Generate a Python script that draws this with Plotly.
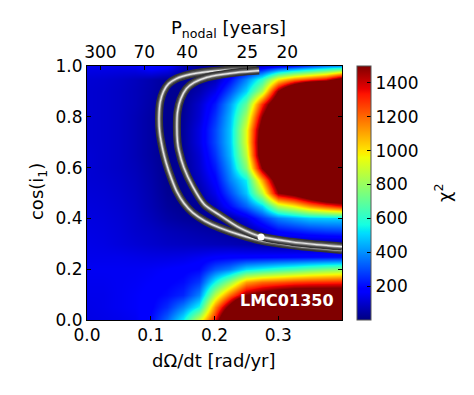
import math

import plotly.graph_objects as go

# grid of the chi^2 map (cell centres)
OMEGA_DOT = [0.0, 0.025, 0.05, 0.075, 0.1, 0.125, 0.15, 0.175, 0.2,
             0.225, 0.25, 0.275, 0.3, 0.325, 0.35, 0.375, 0.4]
COS_I = [0.0, 0.05, 0.1, 0.15, 0.2, 0.25, 0.3, 0.35, 0.4, 0.45, 0.5,
         0.55, 0.6, 0.65, 0.7, 0.75, 0.8, 0.85, 0.9, 0.95, 1.0]
CHI2 = [
    [130, 135, 140, 150, 200, 340, 540, 900, 1350, 2000, 2500, 2500, 2500, 2500, 2500, 2500, 2500],
    [135, 140, 150, 160, 180, 250, 380, 560, 1150, 1600, 2200, 2500, 2500, 2500, 2500, 2500, 2500],
    [140, 140, 150, 160, 175, 200, 240, 380, 860, 1200, 1500, 1600, 1700, 1750, 1750, 1750, 1750],
    [145, 145, 150, 155, 165, 180, 200, 270, 560, 800, 1110, 1200, 1230, 1270, 1290, 1300, 1310],
    [150, 150, 150, 150, 155, 165, 175, 190, 310, 375, 510, 560, 610, 650, 700, 740, 770],
    [140, 140, 140, 135, 130, 130, 135, 150, 170, 180, 180, 185, 190, 195, 200, 205, 210],
    [135, 130, 120, 110, 100, 90, 85, 80, 75, 70, 60, 50, 40, 35, 35, 35, 40],
    [130, 125, 115, 100, 90, 75, 65, 55, 45, 35, 40, 100, 190, 220, 250, 270, 280],
    [125, 120, 110, 95, 75, 50, 35, 25, 25, 50, 130, 260, 375, 430, 480, 490, 490],
    [120, 115, 105, 90, 65, 35, 20, 25, 80, 200, 330, 500, 850, 975, 1140, 1250, 1350],
    [115, 110, 100, 85, 60, 25, 15, 50, 140, 297, 474, 866, 1480, 1600, 1800, 2000, 2000],
    [110, 105, 95, 80, 55, 20, 20, 80, 180, 375, 540, 1100, 1700, 2000, 2300, 2500, 2500],
    [110, 100, 90, 75, 50, 18, 25, 100, 220, 416, 757, 1500, 2000, 2500, 2500, 2500, 2500],
    [110, 100, 90, 70, 45, 15, 30, 110, 260, 460, 866, 1700, 2500, 2500, 2500, 2500, 2500],
    [105, 100, 90, 70, 45, 15, 35, 130, 290, 480, 930, 1700, 2500, 2500, 2500, 2500, 2500],
    [105, 100, 90, 70, 45, 15, 35, 130, 290, 480, 930, 1650, 2500, 2500, 2500, 2500, 2500],
    [105, 100, 90, 70, 45, 18, 30, 110, 260, 460, 830, 1500, 2000, 2500, 2500, 2500, 2500],
    [105, 100, 90, 75, 50, 20, 25, 100, 220, 420, 700, 1300, 1800, 2500, 2500, 2500, 2500],
    [105, 100, 90, 75, 55, 25, 20, 60, 140, 300, 500, 840, 1500, 2000, 2500, 2500, 2500],
    [110, 105, 95, 80, 60, 35, 25, 30, 70, 200, 380, 600, 980, 1150, 1250, 1350, 1600],
    [140, 140, 140, 150, 200, 180, 80, 40, 35, 40, 60, 100, 160, 220, 300, 380, 420],
]

# confidence contours (centre of each band)
OUTER_X = [0.266, 0.23, 0.19, 0.16, 0.14, 0.128, 0.12, 0.115, 0.113, 0.114, 0.119,
           0.124, 0.132, 0.141, 0.152, 0.166, 0.185, 0.208, 0.24, 0.273, 0.32, 0.36, 0.40]
OUTER_Y = [0.988, 0.986, 0.978, 0.966, 0.950, 0.930, 0.900, 0.86, 0.80, 0.74, 0.669,
           0.62, 0.56, 0.505, 0.46, 0.422, 0.39, 0.363, 0.335, 0.313, 0.295, 0.284, 0.276]
INNER_X = [0.27, 0.24, 0.21, 0.188, 0.168, 0.156, 0.147, 0.142, 0.141, 0.142, 0.144,
           0.152, 0.166, 0.184, 0.208, 0.24, 0.273, 0.32, 0.36, 0.40]
INNER_Y = [0.982, 0.976, 0.966, 0.955, 0.935, 0.911, 0.87, 0.82, 0.76, 0.70, 0.669,
           0.60, 0.525, 0.455, 0.413, 0.362, 0.328, 0.308, 0.297, 0.289]

BEST_FIT = (0.273, 0.327)

PERIOD_TICKS = [300, 70, 40, 25, 20]
CBAR_TICKS = [200, 400, 600, 800, 1000, 1200, 1400]

FONT = "DejaVu Sans"

JET = [
    [0.0, "rgb(0,0,128)"], [0.11, "rgb(0,0,255)"], [0.125, "rgb(0,0,255)"],
    [0.34, "rgb(0,219,255)"], [0.35, "rgb(0,230,247)"], [0.375, "rgb(21,255,226)"],
    [0.64, "rgb(239,255,8)"], [0.65, "rgb(247,245,0)"], [0.66, "rgb(255,236,0)"],
    [0.89, "rgb(255,19,0)"], [0.91, "rgb(232,0,0)"], [1.0, "rgb(128,0,0)"],
]

fig = go.Figure()
fig.add_trace(
    go.Heatmap(
        x=OMEGA_DOT,
        y=COS_I,
        z=CHI2,
        zmin=0,
        zmax=1500,
        zsmooth="best",
        colorscale=JET,
        colorbar={
            "x": 1.059,
            "xanchor": "left",
            "xpad": 0,
            "y": 0.5,
            "len": 1.0,
            "ypad": 0,
            "thickness": 14,
            "outlinecolor": "#555555",
            "outlinewidth": 1,
            "tickvals": CBAR_TICKS,
            "ticks": "inside",
            "ticklen": 4,
            "tickcolor": "black",
            "tickfont": {"size": 17, "color": "black", "family": FONT},
        },
        hoverinfo="skip",
    )
)

for xs, ys in [(OUTER_X, OUTER_Y), (INNER_X, INNER_Y)]:
    for width, color in [(8, "#353535"), (5, "#555555"), (2.8, "#9a9a9a"), (1.2, "#e8e8e8")]:
        fig.add_trace(
            go.Scatter(
                x=xs, y=ys, mode="lines",
                line={"color": color, "width": width, "shape": "spline", "smoothing": 0.8},
                showlegend=False, hoverinfo="skip",
            )
        )

fig.add_trace(
    go.Scatter(
        x=[BEST_FIT[0]], y=[BEST_FIT[1]], mode="markers",
        marker={"color": "white", "size": 7},
        showlegend=False, hoverinfo="skip",
    )
)

# dummy trace so the top (period) axis is drawn
fig.add_trace(
    go.Scatter(x=[0.2], y=[0.5], xaxis="x2", mode="markers",
               marker={"opacity": 0}, showlegend=False, hoverinfo="skip")
)

title_font = {"size": 18, "color": "black", "family": FONT}
fig.add_annotation(
    x=0.39, y=0.076, xref="x", yref="y", text="<b>LMC01350</b>",
    showarrow=False, xanchor="right", yanchor="middle",
    font={"size": 16, "color": "white", "family": FONT},
)
fig.add_annotation(
    x=0.498, y=-0.161, xref="paper", yref="paper", text="dΩ/dt [rad/yr]",
    showarrow=False, xanchor="center", yanchor="middle", font=title_font,
)
fig.add_annotation(
    x=0.553, y=1.145, xref="paper", yref="paper", text="P<sub>nodal</sub> [years]",
    showarrow=False, xanchor="center", yanchor="middle", font=title_font,
)
fig.add_annotation(
    x=-0.192, y=0.504, xref="paper", yref="paper", text="cos(i<sub>1</sub>)",
    textangle=-90, showarrow=False, xanchor="center", yanchor="middle", font=title_font,
)
fig.add_annotation(
    x=1.396, y=0.5, xref="paper", yref="paper", text="χ<sup>2</sup>",
    textangle=-90, showarrow=False, xanchor="center", yanchor="middle", font=title_font,
)

axis_font = {"size": 17, "color": "black", "family": FONT}
fig.update_layout(
    width=466,
    height=387,
    margin={"l": 79, "r": 132, "t": 58, "b": 75},
    paper_bgcolor="white",
    plot_bgcolor="white",
    font={"family": FONT, "color": "black"},
    xaxis={
        "range": [0, 0.4],
        "tickvals": [0.0, 0.1, 0.2, 0.3],
        "ticktext": ["0.0", "0.1", "0.2", "0.3"],
        "ticks": "inside",
        "ticklen": 4,
        "tickcolor": "black",
        "showline": True,
        "linecolor": "black",
        "mirror": True,
        "showgrid": False,
        "zeroline": False,
        "tickfont": axis_font,
    },
    xaxis2={
        "range": [0, 0.4],
        "overlaying": "x",
        "side": "top",
        "tickvals": [2 * math.pi / p for p in PERIOD_TICKS],
        "ticktext": [str(p) for p in PERIOD_TICKS],
        "ticks": "inside",
        "ticklen": 4,
        "tickcolor": "black",
        "showline": True,
        "linecolor": "black",
        "showgrid": False,
        "zeroline": False,
        "tickfont": axis_font,
    },
    yaxis={
        "range": [0, 1],
        "tickvals": [0.0, 0.2, 0.4, 0.6, 0.8, 1.0],
        "ticktext": ["0.0", "0.2", "0.4", "0.6", "0.8", "1.0"],
        "ticks": "inside",
        "ticklen": 4,
        "tickcolor": "black",
        "showline": True,
        "linecolor": "black",
        "mirror": "ticks",
        "showgrid": False,
        "zeroline": False,
        "tickfont": axis_font,
    },
)

fig.write_html("out.html")
